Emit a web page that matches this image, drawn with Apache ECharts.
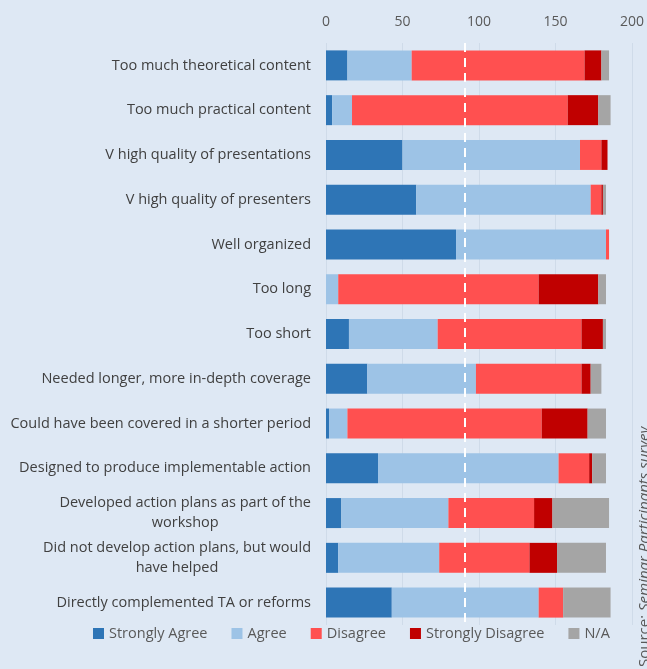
<!DOCTYPE html>
<html><head><meta charset="utf-8">
<script src="https://cdn.jsdelivr.net/npm/echarts@6/dist/echarts.min.js"></script>
<style>html,body{margin:0;padding:0;background:#dee8f4;}#c{width:647px;height:669px;}</style>
</head><body><div id="c"></div>
<script>
const categories = [
  "Too much theoretical content",
  "Too much practical content",
  "V high quality of presentations",
  "V high quality of presenters",
  "Well organized",
  "Too long",
  "Too short",
  "Needed longer, more in-depth coverage",
  "Could have been covered in a shorter period",
  "Designed to produce implementable action",
  "Developed action plans as part of the\nworkshop",
  "Did not develop action plans, but would\nhave helped",
  "Directly complemented TA or reforms"
];
const stronglyAgree    = [14, 4, 50, 59, 85, 0, 15, 27, 2, 34, 10, 8, 43];
const agree            = [42, 13, 116, 114, 98, 8, 58, 71, 12, 118, 70, 66, 96];
const disagree         = [113, 141, 14, 7, 2, 131, 94, 69, 127, 20, 56, 59, 16];
const stronglyDisagree = [11, 20, 4, 1, 0, 39, 14, 6, 30, 2, 12, 18, 0];
const notApplicable    = [5, 8, 0, 2, 0, 5, 2, 7, 12, 9, 37, 32, 31];
const xTicks = [0, 50, 100, 150, 200];
const referenceValue = 91;

const seriesNames = ["Strongly Agree", "Agree", "Disagree", "Strongly Disagree", "N/A"];
const seriesData = [stronglyAgree, agree, disagree, stronglyDisagree, notApplicable];
const colors = ["#2e75b6", "#9dc3e6", "#ff5050", "#c00000", "#a5a5a5"];

const chart = echarts.init(document.getElementById('c'));
const series = seriesNames.map((n, i) => ({
  name: n, type: 'bar', stack: 'total', data: seriesData[i], barWidth: 30,
  itemStyle: { color: colors[i] }
}));
series[0].markLine = {
  symbol: 'none', silent: true, label: { show: false },
  lineStyle: { color: '#ffffff', type: [9, 6], width: 2 },
  data: [{ xAxis: referenceValue }]
};
chart.setOption({
  backgroundColor: '#dee8f4',
  animation: false,
  color: colors,
  grid: { left: 326, right: 14, top: 43, bottom: 44, containLabel: false },
  legend: {
    bottom: 23, left: 88, itemWidth: 11, itemHeight: 11, itemGap: 24, icon: 'rect',
    textStyle: { color: '#595959', fontSize: 14.5, fontFamily: 'Open Sans' },
    data: seriesNames
  },
  xAxis: {
    type: 'value', position: 'top', min: xTicks[0], max: xTicks[xTicks.length - 1], interval: 50,
    axisLine: { show: false }, axisTick: { show: false },
    axisLabel: { color: '#595959', fontSize: 14, fontFamily: 'Open Sans', margin: 14 },
    splitLine: { lineStyle: { color: '#cfdbe9', width: 1 } }
  },
  yAxis: {
    type: 'category', inverse: true, data: categories,
    axisLine: { show: false }, axisTick: { show: false },
    axisLabel: {
      margin: 15, color: '#404040', fontSize: 14.5, fontFamily: 'Open Sans', lineHeight: 20,
      formatter: v => v.split('\n').map(s => '{c|' + s + '}').join('\n'),
      rich: { c: { align: 'center', color: '#404040', fontSize: 14.5, fontFamily: 'Open Sans', lineHeight: 20 } }
    }
  },
  graphic: [{
    type: 'text', rotation: Math.PI / 2, originX: 0, originY: 0,
    x: 637, y: 667,
    style: {
      text: '{a|Source: }{b|Seminar Participants survey}',
      rich: {
        a: { fill: '#595959', font: '15px "Open Sans"' },
        b: { fill: '#595959', font: 'italic 15px "Open Sans"' }
      },
      fill: '#595959', font: '15px "Open Sans"'
    }
  }],
  series: series
});
</script></body></html>
